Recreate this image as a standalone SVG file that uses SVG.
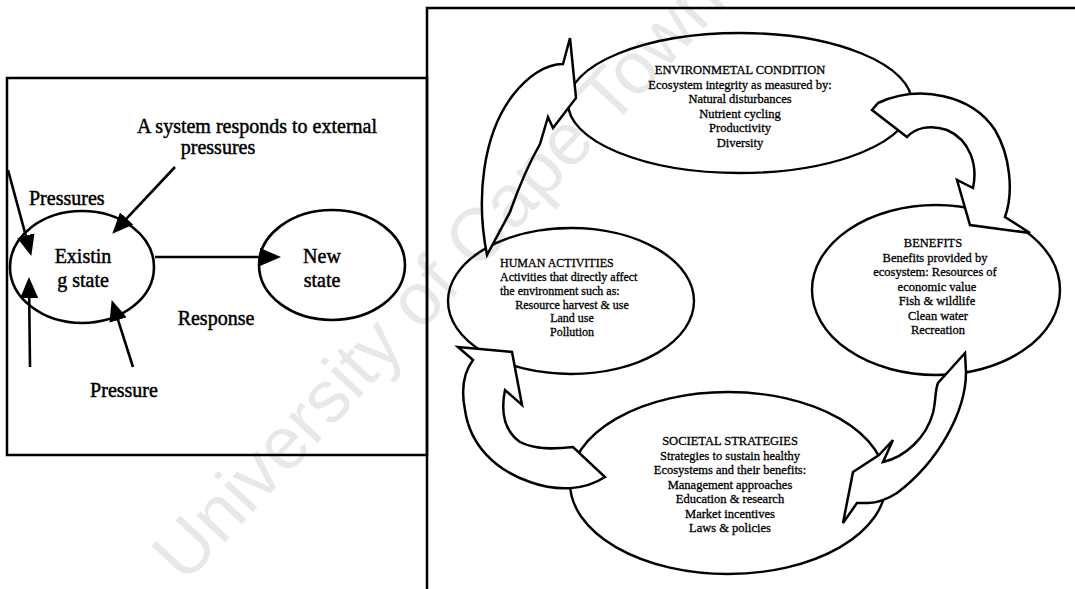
<svg xmlns="http://www.w3.org/2000/svg" width="1075" height="589" viewBox="0 0 1075 589">
<style>
.frame{fill:none;stroke:#000;stroke-width:2.5}
.node{fill:#fff;stroke:#000;stroke-width:2.6}
.onode{fill:#fff;stroke:#000;stroke-width:2.4}
.lbl{font-family:"Liberation Serif","Times New Roman",serif;fill:#000;stroke:#000;stroke-width:0.3}
.big{font-size:20px;stroke-width:0.45}
.sm{font-size:12.5px}
.xs{font-size:12px}
.mid{text-anchor:middle}
.conn{stroke:#000;stroke-width:2.6;fill:none;marker-end:url(#ah)}
.blk{fill:#fff;stroke:#000;stroke-width:2.5;stroke-linejoin:miter}
.wm{font-family:"Liberation Sans",Arial,sans-serif;font-size:74px;fill:#000;fill-opacity:0.09}
</style>
<defs>
<marker id="ah" markerUnits="userSpaceOnUse" markerWidth="21" markerHeight="18" refX="16" refY="9" orient="auto">
<path d="M0,0 L21,9 L0,18 Z" fill="#000"/>
</marker>
</defs>
<rect width="1075" height="589" fill="#fff"/>
<g id="frames">
<rect class="frame" x="7" y="78" width="420" height="377"/>
<path class="frame" d="M427,589 L427,8 L1075,8"/>
</g>
<g id="existing-state">
<ellipse class="node" cx="82" cy="267" rx="72" ry="56"/>
<text class="lbl big mid" x="83" y="263">Existin</text>
<text class="lbl big mid" x="83" y="287">g state</text>
</g>
<g id="new-state">
<ellipse class="node" cx="332" cy="265" rx="73" ry="55"/>
<text class="lbl big mid" x="322" y="263">New</text>
<text class="lbl big mid" x="322" y="287">state</text>
</g>
<g id="left-labels">
<text class="lbl big mid" x="257" y="133">A system responds to external</text>
<text class="lbl big mid" x="218" y="154">pressures</text>
<text class="lbl big" x="29" y="205">Pressures</text>
<text class="lbl big mid" x="216" y="325">Response</text>
<text class="lbl big mid" x="124" y="397">Pressure</text>
</g>
<g id="left-connectors">
<line class="conn" x1="155" y1="257" x2="276" y2="257"/>
<line class="conn" x1="175" y1="167" x2="115.7" y2="230.1"/>
<line class="conn" x1="8" y1="170" x2="30" y2="251.1"/>
<line class="conn" x1="30" y1="367" x2="29" y2="282"/>
<line class="conn" x1="133" y1="367" x2="113.2" y2="304.8"/>
</g>
<g id="environmental-condition">
<ellipse class="onode" cx="740" cy="103" rx="172" ry="70"/>
<text class="lbl sm mid" x="740" y="74">ENVIRONMETAL CONDITION</text>
<text class="lbl sm mid" x="740" y="88.5">Ecosystem integrity as measured by:</text>
<text class="lbl sm mid" x="740" y="103">Natural disturbances</text>
<text class="lbl sm mid" x="740" y="117.5">Nutrient cycling</text>
<text class="lbl sm mid" x="740" y="132">Productivity</text>
<text class="lbl sm mid" x="740" y="146.5">Diversity</text>
</g>
<g id="benefits">
<ellipse class="onode" cx="936" cy="290" rx="124" ry="85"/>
<text class="lbl sm mid" x="933" y="247">BENEFITS</text>
<text class="lbl sm mid" x="935" y="261.5">Benefits provided by</text>
<text class="lbl sm mid" x="935" y="276">ecosystem: Resources of</text>
<text class="lbl sm mid" x="937" y="290.5">economic value</text>
<text class="lbl sm mid" x="937" y="305">Fish &amp; wildlife</text>
<text class="lbl sm mid" x="938" y="319.5">Clean water</text>
<text class="lbl sm mid" x="938" y="334">Recreation</text>
</g>
<g id="societal-strategies">
<ellipse class="onode" cx="728" cy="483" rx="158" ry="91"/>
<text class="lbl sm mid" x="730" y="445">SOCIETAL STRATEGIES</text>
<text class="lbl sm mid" x="730" y="459.5">Strategies to sustain healthy</text>
<text class="lbl sm mid" x="730" y="474">Ecosystems and their benefits:</text>
<text class="lbl sm mid" x="730" y="488.5">Management approaches</text>
<text class="lbl sm mid" x="730" y="503">Education &amp; research</text>
<text class="lbl sm mid" x="730" y="517.5">Market incentives</text>
<text class="lbl sm mid" x="730" y="532">Laws &amp; policies</text>
</g>
<g id="human-activities">
<ellipse class="onode" cx="571" cy="301" rx="123" ry="73"/>
<text class="lbl xs" x="500" y="267">HUMAN ACTIVITIES</text>
<text class="lbl xs" x="500" y="281">Activities that directly affect</text>
<text class="lbl xs" x="500" y="295">the environment such as:</text>
<text class="lbl xs mid" x="572" y="308.5">Resource harvest &amp; use</text>
<text class="lbl xs mid" x="572" y="322">Land use</text>
<text class="lbl xs mid" x="572" y="335.5">Pollution</text>
</g>
<g id="cycle-connectors">
<path class="blk" d="M487,255 C476,200 482,135 513,95 C527,77 545,64 563,64 L570,38 L576,98 L553,128 L548,117 L540,144 C528,165 516,195 510,212 Z"/>
<path class="blk" d="M872,110 L878,103 C920,84 972,95 995,130 C1010,155 1014,192 1005,217 L1030,233 L970,225 L957,180 L973,188 C978,165 970,140 947,130 C930,124 915,128 907,137 Z"/>
<path class="blk" d="M965,353 L966,372 C966,412 938,462 897,493 C886,500 876,503 868,503 L857,503 L843,523 L853,472 L879,455 L893,440 L883,462 C905,457 926,438 933,413 C936,400 935,390 938,383 L947,373 Z"/>
<path class="blk" d="M458,347 L512,352 L522,405 L505,390 C500,415 506,432 520,442 C535,450 555,449 573,447 L605,477 C585,490 558,492 530,482 C495,470 470,445 465,410 C461,390 464,372 473,360 Z"/>
</g>
<text class="wm" transform="translate(185,585) rotate(-47)">University of Cape Town</text>
</svg>
